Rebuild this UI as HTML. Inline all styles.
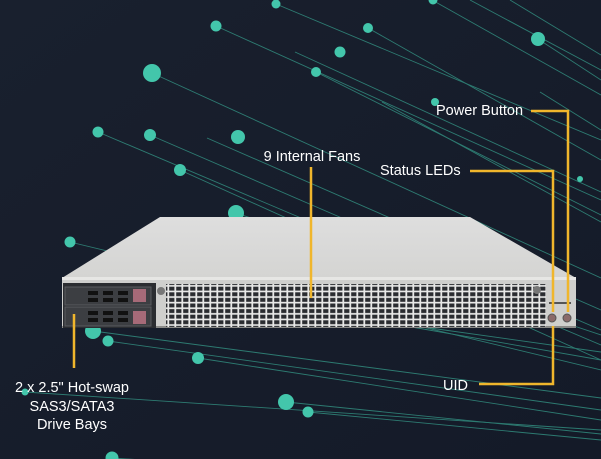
<!DOCTYPE html>
<html><head><meta charset="utf-8"><style>
html,body{margin:0;padding:0;background:#161c2a;}
svg{display:block}
text{font-family:"Liberation Sans",sans-serif;fill:#fff;font-size:14.5px}
</style></head><body>
<svg width="601" height="459" viewBox="0 0 601 459" xmlns="http://www.w3.org/2000/svg">
<defs>
<linearGradient id="bg" x1="0" y1="0" x2="1" y2="1"><stop offset="0" stop-color="#19202e"/><stop offset="1" stop-color="#141a28"/></linearGradient>
<pattern id="grill" x="0" y="0" width="7" height="5.6" patternUnits="userSpaceOnUse">
<rect width="7" height="5.6" fill="#e8e8e7"/><rect x="1.2" y="1.1" width="5.2" height="3.9" fill="#2a2c30"/>
</pattern>
<linearGradient id="top" x1="0" y1="0" x2="0" y2="1"><stop offset="0" stop-color="#dedede"/><stop offset="1" stop-color="#d4d4d2"/></linearGradient>
</defs>
<rect width="601" height="459" fill="url(#bg)"/>
<g stroke="#3aae98" stroke-width="0.9" opacity="0.65">
<line x1="276" y1="4" x2="601" y2="140"/>
<line x1="432" y1="0" x2="601" y2="95"/>
<line x1="216" y1="26" x2="601" y2="200"/>
<line x1="368" y1="28" x2="601" y2="160"/>
<line x1="538" y1="39" x2="601" y2="80"/>
<line x1="152" y1="73" x2="601" y2="278"/>
<line x1="295" y1="52" x2="601" y2="192"/>
<line x1="316" y1="72" x2="601" y2="215"/>
<line x1="98" y1="132" x2="601" y2="345"/>
<line x1="150" y1="135" x2="601" y2="330"/>
<line x1="207" y1="138" x2="601" y2="310"/>
<line x1="180" y1="170" x2="601" y2="360"/>
<line x1="236" y1="213" x2="601" y2="335"/>
<line x1="70" y1="242" x2="601" y2="370"/>
<line x1="382" y1="102" x2="601" y2="222"/>
<line x1="510" y1="0" x2="601" y2="55"/>
<line x1="470" y1="0" x2="601" y2="70"/>
<line x1="540" y1="92" x2="601" y2="130"/>
<line x1="93" y1="331" x2="601" y2="398"/>
<line x1="108" y1="341" x2="601" y2="410"/>
<line x1="198" y1="358" x2="601" y2="420"/>
<line x1="286" y1="402" x2="601" y2="434"/>
<line x1="308" y1="412" x2="601" y2="440"/>
<line x1="25" y1="392" x2="601" y2="430"/>
<line x1="112" y1="458" x2="300" y2="470"/>
<line x1="400" y1="325" x2="601" y2="360"/>
<line x1="430" y1="328" x2="601" y2="352"/>
</g>
<g fill="#43c6ab">
<circle cx="276" cy="4" r="4.5"/><circle cx="433" cy="0" r="4.5"/>
<circle cx="216" cy="26" r="5.5"/><circle cx="368" cy="28" r="5"/>
<circle cx="538" cy="39" r="7"/><circle cx="152" cy="73" r="9"/>
<circle cx="340" cy="52" r="5.5"/><circle cx="316" cy="72" r="5"/>
<circle cx="98" cy="132" r="5.5"/><circle cx="150" cy="135" r="6"/>
<circle cx="238" cy="137" r="7"/><circle cx="180" cy="170" r="6"/>
<circle cx="236" cy="213" r="8"/><circle cx="70" cy="242" r="5.5"/>
<circle cx="435" cy="102" r="4"/><circle cx="580" cy="179" r="3"/>
<circle cx="93" cy="331" r="8"/><circle cx="108" cy="341" r="5.5"/>
<circle cx="198" cy="358" r="6"/><circle cx="286" cy="402" r="8"/>
<circle cx="308" cy="412" r="5.5"/><circle cx="25" cy="392" r="3.5"/>
<circle cx="112" cy="458" r="6.5"/>
</g>
<!-- server -->
<polygon points="160,217 470,217 576,278 62,278" fill="url(#top)"/>
<rect x="62" y="277" width="514" height="51" fill="#cfcfcd"/>
<rect x="62" y="277" width="514" height="3" fill="#e6e6e4"/>
<rect x="62" y="326" width="514" height="2" fill="#8a8a88"/>
<rect x="166" y="284" width="380" height="43" fill="url(#grill)"/>
<rect x="63" y="283" width="93" height="45" fill="#2b2d31"/>
<rect x="65" y="287" width="86" height="18" fill="#3c3e42" stroke="#5a5c60" stroke-width="1"/>
<rect x="65" y="307" width="86" height="19" fill="#3c3e42" stroke="#5a5c60" stroke-width="1"/>
<g fill="#111">
<rect x="88" y="291" width="10" height="4"/><rect x="103" y="291" width="10" height="4"/><rect x="118" y="291" width="10" height="4"/>
<rect x="88" y="298" width="10" height="4"/><rect x="103" y="298" width="10" height="4"/><rect x="118" y="298" width="10" height="4"/>
<rect x="88" y="311" width="10" height="4"/><rect x="103" y="311" width="10" height="4"/><rect x="118" y="311" width="10" height="4"/>
<rect x="88" y="318" width="10" height="4"/><rect x="103" y="318" width="10" height="4"/><rect x="118" y="318" width="10" height="4"/>
</g>
<rect x="133" y="289" width="13" height="13" fill="#a66a78"/>
<rect x="133" y="311" width="13" height="13" fill="#a66a78"/>
<circle cx="161" cy="291" r="4" fill="#777"/><circle cx="537" cy="290" r="4" fill="#777"/>
<circle cx="552" cy="318" r="4" fill="#8a6a6a" stroke="#555"/><circle cx="567" cy="318" r="4" fill="#8a6a6a" stroke="#555"/>
<rect x="549" y="302" width="22" height="2" fill="#555"/>
<!-- callouts -->
<g stroke="#f0b62c" stroke-width="2.5" fill="none">
<line x1="311" y1="167" x2="311" y2="298"/>
<polyline points="531,111 568,111 568,312"/>
<polyline points="470,171 553,171 553,312"/>
<polyline points="553,326 553,384 479,384"/>
<line x1="74" y1="314" x2="74" y2="368"/>
</g>
<text x="312" y="161" text-anchor="middle">9 Internal Fans</text>
<text x="436" y="115">Power Button</text>
<text x="380" y="175">Status LEDs</text>
<text x="443" y="390">UID</text>
<text x="72" y="392" text-anchor="middle">2 x 2.5" Hot-swap</text>
<text x="72" y="411" text-anchor="middle">SAS3/SATA3</text>
<text x="72" y="429" text-anchor="middle">Drive Bays</text>
</svg>
</body></html>
